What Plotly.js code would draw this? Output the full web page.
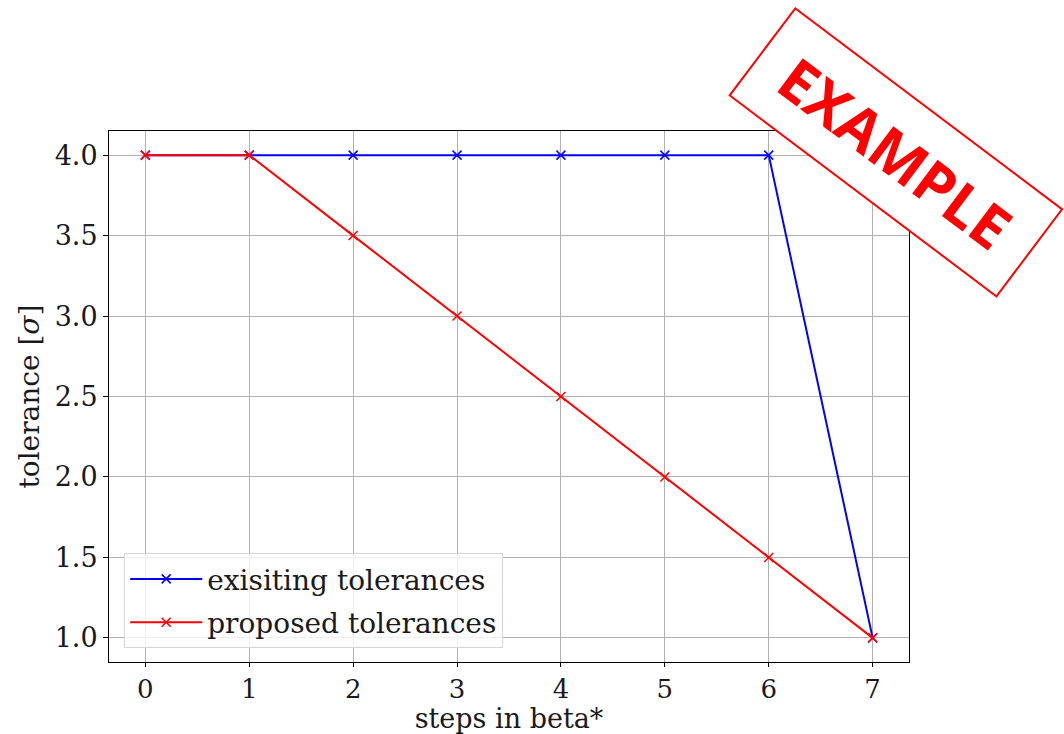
<!DOCTYPE html>
<html>
<head>
<meta charset="utf-8">
<script src="https://cdn.plot.ly/plotly-3.0.1.min.js"></script>
<style>body{margin:0;padding:0;background:#fff;}#chart{width:1064px;height:734px;}</style>
</head>
<body>
<div id="chart"></div>
<script>
const steps = [0, 1, 2, 3, 4, 5, 6, 7];
const existingTolerances = [4, 4, 4, 4, 4, 4, 4, 1];
const proposedTolerances = [4, 4, 3.5, 3, 2.5, 2, 1.5, 1];
const seriesNames = ['exisiting tolerances', 'proposed tolerances'];
const xTicks = [0, 1, 2, 3, 4, 5, 6, 7];
const yTicks = [1.0, 1.5, 2.0, 2.5, 3.0, 3.5, 4.0];

const serif = 'DejaVu Serif, serif';
const traces = [
  {x: steps, y: existingTolerances, name: seriesNames[0], mode: 'lines+markers', legendgroup: 'a',
   line: {color: '#0000ff', width: 2},
   marker: {symbol: 'x-thin', size: 9, line: {color: '#0000ff', width: 1.5}}},
  {x: steps, y: proposedTolerances, name: seriesNames[1], mode: 'lines+markers', legendgroup: 'b',
   line: {color: '#ff0000', width: 2},
   marker: {symbol: 'x-thin', size: 9, line: {color: '#ff0000', width: 1.5}}}
];
const layout = {
  width: 1064, height: 734,
  margin: {l: 109, r: 155, t: 131, b: 72},
  paper_bgcolor: '#fff', plot_bgcolor: '#fff',
  font: {family: serif, size: 27, color: '#1a1a1a'},
  showlegend: true,
  legend: {x: 0.019, y: 0.026, xanchor: 'left', yanchor: 'bottom',
    bgcolor: 'rgba(255,255,255,0.8)', bordercolor: '#d6d6d6', borderwidth: 1,
    itemwidth: 72,
    font: {family: serif, size: 28, color: '#1a1a1a'}, tracegroupgap: 4},
  xaxis: {range: [-0.35, 7.35], tickvals: xTicks, ticktext: xTicks.map(String),
    showgrid: true, gridcolor: '#b0b0b0', gridwidth: 1, zeroline: false,
    showline: true, mirror: true, linecolor: '#000', linewidth: 1,
    ticks: 'outside', ticklen: 4, tickcolor: '#000',
    tickfont: {family: serif, size: 26, color: '#1a1a1a'},
    title: {text: 'steps in beta*', font: {family: serif, size: 27, color: '#1a1a1a'}, standoff: 5}},
  yaxis: {range: [0.85, 4.15], tickvals: yTicks, tickformat: '.1f',
    showgrid: true, gridcolor: '#b0b0b0', gridwidth: 1, zeroline: false,
    showline: true, mirror: true, linecolor: '#000', linewidth: 1,
    ticks: 'outside', ticklen: 5, tickcolor: '#000',
    tickfont: {family: serif, size: 27, color: '#1a1a1a'},
    title: {text: 'tolerance [<i>σ</i>]', font: {family: serif, size: 28, color: '#1a1a1a'}, standoff: 6}},
  annotations: [{
    xref: 'paper', yref: 'paper', x: 0.984, y: 0.960,
    xanchor: 'center', yanchor: 'middle',
    text: '<b>EXAMPLE</b>', textangle: 37, showarrow: false,
    font: {family: 'Open Sans, sans-serif', size: 59, color: '#ff0000'},
    width: 330, height: 105, bgcolor: '#ffffff',
    bordercolor: '#ff0000', borderwidth: 2, borderpad: 1
  }]
};
Plotly.newPlot('chart', traces, layout, {displayModeBar: false});
</script>
</body>
</html>
